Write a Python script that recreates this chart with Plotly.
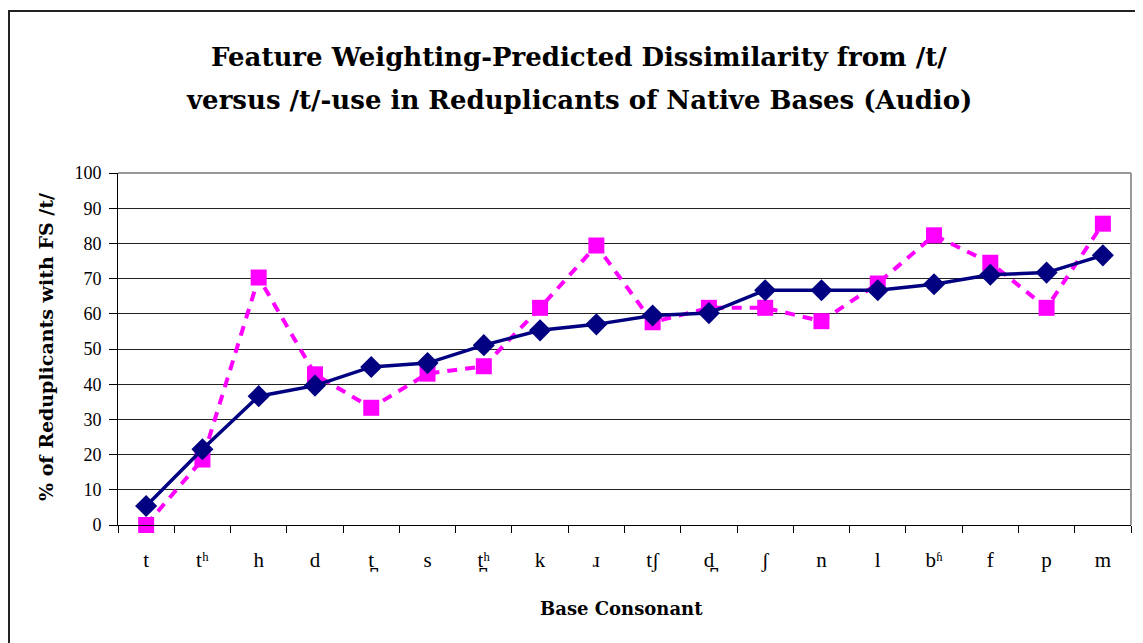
import plotly.graph_objects as go

categories = ["t", "tʰ", "h", "d", "t̪", "s", "t̪ʰ", "k", "ɹ", "tʃ", "d̪", "ʃ", "n", "l", "bʱ", "f", "p", "m"]
predicted = [5.4, 21.5, 36.6, 39.6, 44.9, 46.0, 51.1, 55.3, 57.0, 59.5, 60.2, 66.7, 66.7, 66.7, 68.4, 71.1, 71.7, 76.6]
observed = [0.0, 18.6, 70.3, 42.8, 33.3, 43.0, 45.1, 61.7, 79.4, 57.6, 61.7, 61.7, 57.9, 68.6, 82.3, 74.5, 61.7, 85.6]
y_ticks = [0, 10, 20, 30, 40, 50, 60, 70, 80, 90, 100]

W, H = 1143, 643
OFF = 8  # page body margin offset
# plot area in page pixels: x 118..1131, y 173..525
L = 118 - OFF
T = 173 - OFF
R = W - (1131 - OFF)
B = H - (525 - OFF)
pw, ph = W - L - R, H - T - B

def px(x):
    """page pixel x -> paper coord"""
    return (x - OFF - L) / pw

def py(y):
    """page pixel y -> paper coord"""
    return (H - B - (y - OFF)) / ph

fig = go.Figure()
fig.add_trace(go.Scatter(
    x=categories, y=observed, mode="lines+markers",
    line=dict(color="#FF00FF", width=4, dash="10px,8px"),
    marker=dict(symbol="square", size=16, color="#FF00FF"),
    showlegend=False, cliponaxis=False))
fig.add_trace(go.Scatter(
    x=categories, y=predicted, mode="lines+markers",
    line=dict(color="#000080", width=3.5),
    marker=dict(symbol="diamond", size=17, color="#000080"),
    showlegend=False, cliponaxis=False))

fig.update_layout(
    width=W, height=H,
    margin=dict(l=L, r=R, t=T, b=B),
    paper_bgcolor="white", plot_bgcolor="white",
    xaxis=dict(
        type="category", tickson="boundaries", ticks="outside", ticklen=7,
        tickcolor="black", showline=True, linecolor="black", linewidth=1,
        showgrid=False, mirror=False, ticklabelstandoff=16,
        tickfont=dict(family="Liberation Serif", size=21, color="black"),
        range=[-0.5, len(categories) - 0.5],
    ),
    yaxis=dict(
        range=[0, 100], tickvals=y_ticks, ticks="outside", ticklen=8,
        tickcolor="black", showline=True, linecolor="black", linewidth=1,
        showgrid=True, gridcolor="#222222", gridwidth=1, zeroline=False,
        ticklabelstandoff=4,
        tickfont=dict(family="Liberation Serif", size=18, color="black"),
    ),
    shapes=[
        dict(type="line", xref="paper", yref="paper", x0=0, x1=1, y0=1, y1=1,
             line=dict(color="#999999", width=2)),
        dict(type="line", xref="paper", yref="paper", x0=1, x1=1, y0=0, y1=1,
             line=dict(color="#999999", width=2)),
        dict(type="rect", xref="paper", yref="paper",
             x0=px(9), x1=px(1170), y0=py(680), y1=py(11),
             line=dict(color="#222222", width=2), fillcolor="rgba(0,0,0,0)"),
    ],
    annotations=[
        dict(text="Feature Weighting-Predicted Dissimilarity from /t/",
             xref="paper", yref="paper", x=px(579), y=py(57), xanchor="center", yanchor="middle",
             showarrow=False,
             font=dict(family="DejaVu Serif", size=26, color="black", weight="bold")),
        dict(text="versus /t/-use in Reduplicants of Native Bases (Audio)",
             xref="paper", yref="paper", x=px(579), y=py(100), xanchor="center", yanchor="middle",
             showarrow=False,
             font=dict(family="DejaVu Serif", size=26, color="black", weight="bold")),
        dict(text="Base Consonant", xref="paper", yref="paper", x=px(621), y=py(608),
             xanchor="center", yanchor="middle", showarrow=False,
             font=dict(family="DejaVu Serif", size=18, color="black", weight="bold")),
        dict(text="% of Reduplicants with FS /t/", xref="paper", yref="paper", x=px(46), y=py(347),
             xanchor="center", yanchor="middle", showarrow=False, textangle=-90,
             font=dict(family="DejaVu Serif", size=19, color="black", weight="bold")),
    ],
)

fig.write_html("out.html")
